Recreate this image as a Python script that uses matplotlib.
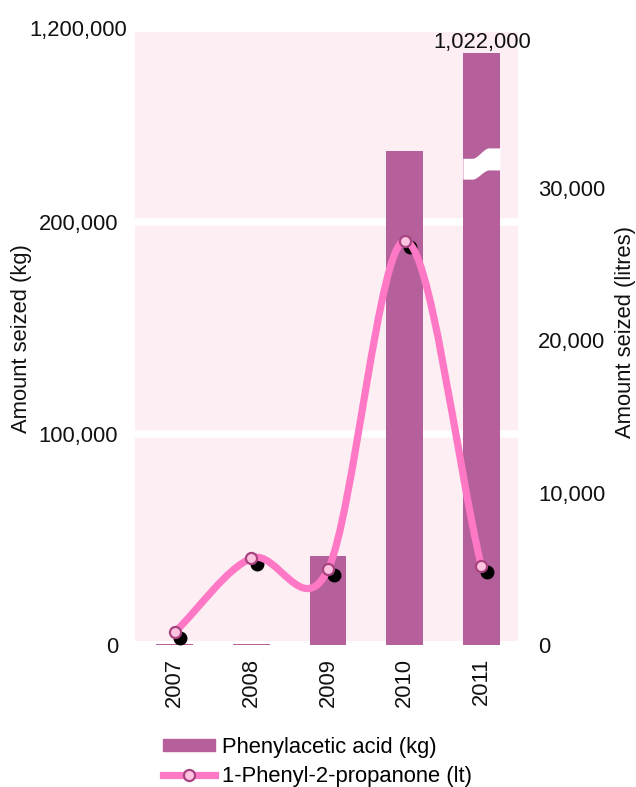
import numpy as np
import matplotlib
matplotlib.use("Agg")
import matplotlib.pyplot as plt
import matplotlib.transforms as mtransforms
from matplotlib.path import Path
from matplotlib.patches import PathPatch, Rectangle, Patch
from matplotlib.lines import Line2D

plt.rcParams['font.family'] = ['Liberation Sans', 'DejaVu Sans']

# data
years = ["2007", "2008", "2009", "2010", "2011"]
acid_kg = [400, 300, 42000, 233600, 1022000]
p2p_litres = [850, 5690, 4960, 26500, 5180]
left_ticks = [0, 100000, 200000, 1200000]
right_ticks = [0, 10000, 20000, 30000]

BAR = "#b5609a"
BG = "#fdeef3"
LINE = "#ff78c6"
MFACE = "#ffc3e2"
MEDGE = "#a8437f"
TXT = "#111111"
FS = 15.8

# broken scale for the kg axis: linear up to T, compressed above
T = 235000
K = 0.0568

def fwd(v):
    v = np.asarray(v, dtype=float)
    return np.where(v <= T, v, T + (v - T) * K)

def inv(u):
    u = np.asarray(u, dtype=float)
    return np.where(u <= T, u, T + (u - T) / K)

fig = plt.figure(figsize=(6.36, 7.87), dpi=100)
ax = fig.add_axes([0.2123, 0.1804, 0.6022, 0.7789])
ax.set_facecolor("none")
ax.add_patch(Rectangle((0, 0.007), 1, 0.993, transform=ax.transAxes,
                       color=BG, zorder=0, lw=0))

x = np.arange(len(years))
ax.set_yscale("function", functions=(fwd, inv))
ax.set_ylim(0, 1200000)
ax.set_xlim(-0.52, 4.48)

for yv in [100000, 200000]:
    ax.axhline(yv, color="white", lw=5.4, zorder=1)

ax.bar(x, acid_kg, width=0.48, color=BAR, zorder=2)

# break mark on the 2011 bar
bx = np.linspace(4 - 0.24, 4 + 0.245, 100)
s = np.clip((bx - 3.88) / 0.22, 0, 1)
s = s * s * (3 - 2 * s)
trans = mtransforms.blended_transform_factory(ax.transData, ax.transAxes)
ax.fill_between(bx, 0.760 + 0.015 * s, 0.794 + 0.017 * s, color="white",
                transform=trans, zorder=3, lw=0)

ax.annotate(f"{acid_kg[4]:,}", xy=(x[4], acid_kg[4]), xytext=(1, 3.6),
            textcoords="offset points", ha="center", va="baseline",
            fontsize=FS, color=TXT)

ax.set_yticks(left_ticks)
ax.set_yticklabels([f"{v:,}" for v in left_ticks])
ax.yaxis.set_minor_locator(matplotlib.ticker.NullLocator())
ax.set_xticks(x)
ax.set_xticklabels(years, rotation=90)
ax.tick_params(axis="y", length=0, pad=12.2, labelsize=FS, labelcolor=TXT)
ax.tick_params(axis="x", length=0, pad=9.4, labelsize=FS, labelcolor=TXT)
# top label sits a little right of and above the others
top_lbl = ax.get_yticklabels()[-1]
top_lbl.set_transform(top_lbl.get_transform() +
                      mtransforms.ScaledTranslation(0.09, 0.045, fig.dpi_scale_trans))
for sp in ax.spines.values():
    sp.set_visible(False)
ax.set_ylabel("Amount seized (kg)", fontsize=FS, color=TXT)
ax.yaxis.set_label_coords(-0.269, 0.5)

# right axis: litres
ax2 = ax.twinx()
ax2.set_ylim(0, 40200)
ax2.set_yticks(right_ticks)
ax2.set_yticklabels([f"{v:,}" for v in right_ticks])
ax2.tick_params(axis="y", length=0, pad=14.4, labelsize=FS, labelcolor=TXT)
for sp in ax2.spines.values():
    sp.set_visible(False)
ax2.set_ylabel("Amount seized (litres)", fontsize=FS, color=TXT)
ax2.yaxis.set_label_coords(1.2535, 0.51)

# smooth curve (Catmull-Rom as cubic bezier)
pts = np.column_stack([x, p2p_litres]).astype(float)
n = len(pts)
tang = np.zeros_like(pts)
for i in range(n):
    if i == 0:
        tang[i] = pts[1] - pts[0]
    elif i == n - 1:
        tang[i] = pts[-1] - pts[-2]
    else:
        tang[i] = (pts[i + 1] - pts[i - 1]) / 2
verts = [tuple(pts[0])]
codes = [Path.MOVETO]
for i in range(n - 1):
    verts += [tuple(pts[i] + tang[i] / 3), tuple(pts[i + 1] - tang[i + 1] / 3),
              tuple(pts[i + 1])]
    codes += [Path.CURVE4] * 3

shadow = mtransforms.offset_copy(ax2.transData, fig=fig, x=5.5, y=-6, units="dots")
ax2.plot(x, p2p_litres, "o", color="black", ms=9, transform=shadow, zorder=3)
ax2.add_patch(PathPatch(Path(verts, codes), fill=False, edgecolor=LINE,
                        lw=5.2, capstyle="round", zorder=4))
ax2.plot(x, p2p_litres, "o", ms=8, mfc=MFACE, mec=MEDGE, mew=1.6,
         ls="none", zorder=5)

handles = [Patch(color=BAR),
           Line2D([], [], color=LINE, lw=5.2, marker="o", ms=8, mfc=MFACE,
                  mec=MEDGE, mew=1.6)]
fig.legend(handles, ["Phenylacetic acid (kg)", "1-Phenyl-2-propanone (lt)"],
           loc="upper left", bbox_to_anchor=(0.256, 0.064), frameon=False,
           fontsize=FS, handlelength=2.4, handleheight=0.5, handletextpad=0.28,
           labelspacing=0.38, borderpad=0, borderaxespad=0)

fig.savefig("out.png", dpi=100)
